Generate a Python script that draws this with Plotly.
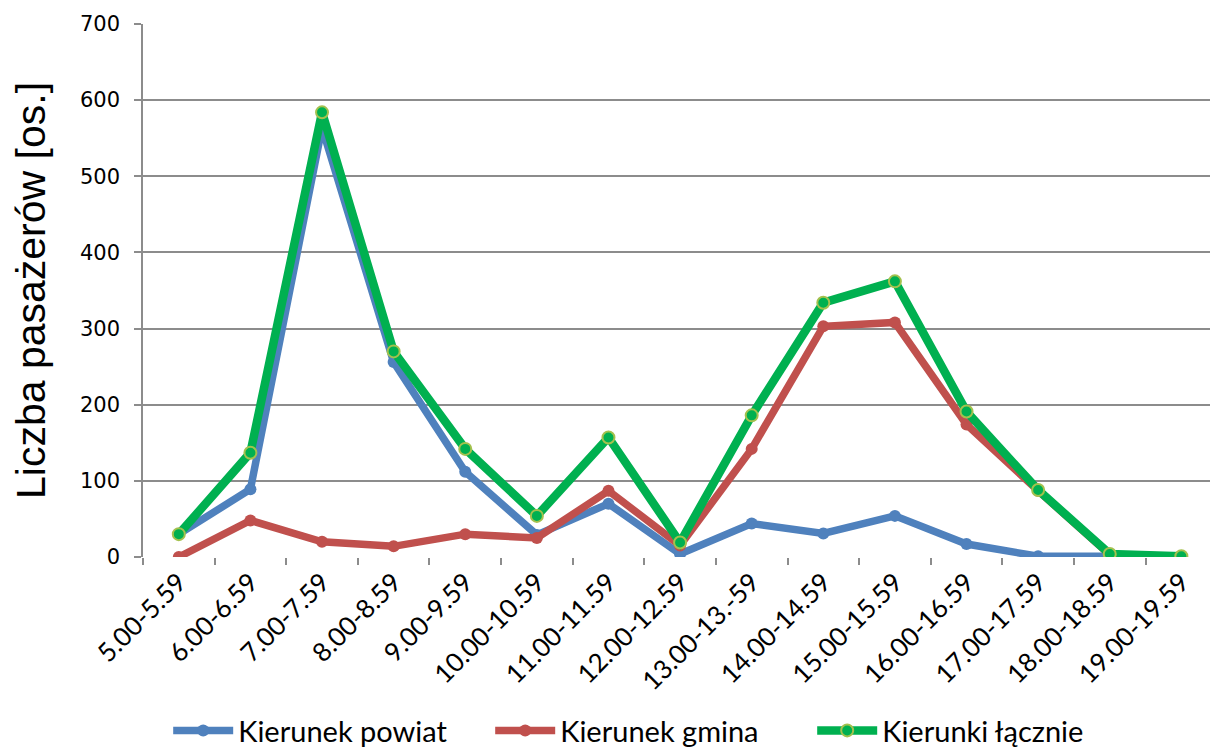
import plotly.graph_objects as go

# Hourly passenger counts by direction
godziny = ["5.00-5.59", "6.00-6.59", "7.00-7.59", "8.00-8.59", "9.00-9.59",
           "10.00-10.59", "11.00-11.59", "12.00-12.59", "13.00-13.-59",
           "14.00-14.59", "15.00-15.59", "16.00-16.59", "17.00-17.59",
           "18.00-18.59", "19.00-19.59"]
powiat = [30, 89, 564, 256, 112, 29, 70, 4, 44, 31, 54, 17, 1, 1, None]
gmina = [0, 48, 20, 14, 30, 25, 87, 15, 142, 303, 308, 174, 87, 3, 1]
lacznie = [30, 137, 584, 270, 142, 54, 157, 19, 186, 334, 362, 191, 88, 4, 1]

y_ticks = [0, 100, 200, 300, 400, 500, 600, 700]

fig = go.Figure()
fig.add_trace(go.Scatter(
    x=godziny, y=powiat, name="Kierunek powiat", mode="lines+markers",
    line=dict(color="#4F81BD", width=7.5),
    marker=dict(color="#4F81BD", size=12, symbol="circle"),
))
fig.add_trace(go.Scatter(
    x=godziny, y=gmina, name="Kierunek gmina", mode="lines+markers",
    line=dict(color="#C0504D", width=7.5),
    marker=dict(color="#C0504D", size=12, symbol="circle"),
))
fig.add_trace(go.Scatter(
    x=godziny, y=lacznie, name="Kierunki łącznie", mode="lines+markers",
    line=dict(color="#00B050", width=8.5),
    marker=dict(color="#00B050", size=12, symbol="circle",
                line=dict(color="#A4C14E", width=2)),
))

fig.update_layout(
    width=1210, height=747,
    margin=dict(l=143, r=0, t=24, b=190),
    paper_bgcolor="white", plot_bgcolor="white",
    showlegend=True,
    legend=dict(
        orientation="h", xref="container", yref="container",
        x=0.139, xanchor="left", y=0.022, yanchor="middle",
        font=dict(family="Lato, Carlito, sans-serif", size=29, color="black"),
        itemwidth=60, entrywidth=247, entrywidthmode="pixels",
        tracegroupgap=0,
    ),
    xaxis=dict(
        type="category", range=[-0.5, 14.4],
        tickangle=-45, tickson="boundaries",
        ticks="outside", ticklen=7, tickcolor="#8C8C8C", tickwidth=1.5,
        showline=False, showgrid=False, zeroline=False,
        ticklabelstandoff=4,
        tickfont=dict(family="Lato, Carlito, sans-serif", size=26, color="black"),
    ),
    yaxis=dict(
        range=[0, 700], tickvals=y_ticks,
        showgrid=True, gridcolor="#8C8C8C", gridwidth=1.5,
        showline=True, linecolor="#8C8C8C", linewidth=1.5,
        ticks="outside", ticklen=7, tickcolor="#8C8C8C", tickwidth=1.5,
        zeroline=False, ticklabelstandoff=10,
        tickfont=dict(family="DejaVu Sans, sans-serif", size=21, color="black"),
        title=dict(text="Liczba pasażerów [os.]", standoff=22,
                   font=dict(family="Liberation Sans, Arial, sans-serif",
                             size=41, color="black")),
    ),
)

fig.write_html("out.html")
